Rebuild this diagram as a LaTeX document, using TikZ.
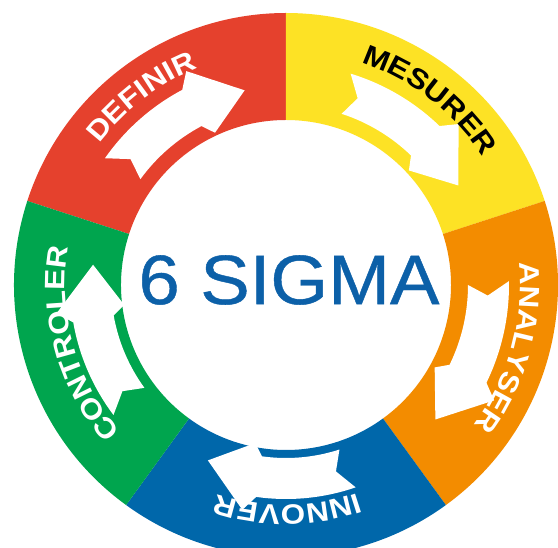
\documentclass[tikz,border=0pt]{standalone}
\usepackage{fontspec}
\setmainfont{Liberation Sans}
\newfontfamily\ringface[FakeStretch=1.12]{Liberation Sans Bold}
\newfontfamily\titleface[FakeBold=0.6]{Liberation Sans}
\usetikzlibrary{decorations.text}
\definecolor{cred}{RGB}{229,65,45}
\definecolor{cyellow}{RGB}{253,226,37}
\definecolor{corange}{RGB}{243,140,0}
\definecolor{cblue}{RGB}{0,103,170}
\definecolor{cgreen}{RGB}{0,165,78}
\definecolor{ctitle}{RGB}{12,96,168}
\newcommand\ringfmt{\ringface\fontsize{28}{30}\selectfont}
% mid angle, radial shift
\newcommand\ringarrow[2]{%
  \fill[white] ({#1+19}:{221+(#2)}) -- ({#1+15}:{200+(#2)}) -- ({#1+18}:{180+(#2)})
    arc[start angle={#1+18}, end angle={#1-8}, radius={180+(#2)}]
    -- ({#1-11}:{168+(#2)}) -- ({#1-24}:{199+(#2)}) -- ({#1-11}:{236+(#2)})
    -- ({#1-8}:{221+(#2)})
    arc[start angle={#1-8}, end angle={#1+19}, radius={221+(#2)}] -- cycle;}
% angle, baseline radius, colour, text
\newcommand\ringlabel[4]{%
  \path[decorate, decoration={text along path, text align=center, text color=#3,
      text={|\ringfmt|#4}}]
    ({#1+45}:#2) arc[start angle={#1+45}, end angle={#1-45}, radius=#2];}
\begin{document}
\begin{tikzpicture}[x=1pt,y=1pt]
\useasboundingbox (-286,-263) rectangle (272,285);
\fill[white] (-286,-263) rectangle (272,285);
\clip (-286,-263) rectangle (272,285);
\foreach \a/\c in {90/cred, 18/cyellow, -54/corange, -126/cblue, 162/cgreen} {
  \fill[\c] (\a:165) -- (\a:272) arc[start angle=\a, end angle=\a+72, radius=272]
    -- ({\a+72}:165) arc[start angle=\a+72, end angle=\a, radius=165] -- cycle;
}
\ringarrow{126}{0}
\ringarrow{54}{0}
\ringarrow{-18}{2}
\ringarrow{-90}{-7}
\ringarrow{198}{-5}
\ringlabel{127.5}{234}{white}{DEFINIR}
\ringlabel{52.2}{235}{black}{MESURER}
\ringlabel{-15.7}{234}{white}{ANALYSER}
\ringlabel{-89.6}{220}{white}{INNOVER}
\ringlabel{195.8}{221}{white}{CONTROLER}
\node[text=ctitle, font=\titleface\fontsize{70}{80}\selectfont, xscale=1.06, inner sep=0pt] (title) at (3,5) {6 SIGMA};
\end{tikzpicture}
\end{document}
